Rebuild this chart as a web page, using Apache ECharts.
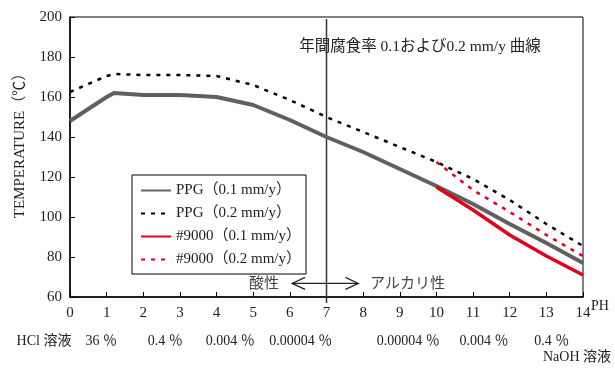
<!DOCTYPE html>
<html>
<head>
<meta charset="utf-8">
<script src="https://cdn.jsdelivr.net/npm/echarts@6/dist/echarts.min.js"></script>
<style>html,body{margin:0;padding:0;background:#fff;}#c{width:615px;height:368px;}</style>
</head>
<body>
<div id="c"></div>
<script>
// ---- data ----
const xTicks = [0,1,2,3,4,5,6,7,8,9,10,11,12,13,14];
const yTicks = [60,80,100,120,140,160,180,200];
const ppgX  = [0,1,1.2,2,3,4,5,6,7,8,9,10,11,12,13,14];
const ppg01 = [148,160,162,161,161,160,156,148.5,140,132.5,124,115.5,106.5,96.5,87,77];
const ppg02 = [162.5,170.5,171.5,171,171,170.5,166,158.5,150,142.5,135,127.5,119,108.5,96.5,85.5];
const n9X   = [10,11,12,13,14];
const n901  = [115,103.5,91,80.5,71];
const n902  = [127.5,113.5,102.5,91,80.5];
const seriesNames = ['PPG（0.1 mm/y）','PPG（0.2 mm/y）','#9000（0.1 mm/y）','#9000（0.2 mm/y）'];
const hclLabels = [[0.85,'36 ％'],[2.6,'0.4 ％'],[4.37,'0.004 ％'],[6.3,'0.00004 ％']];
const naohLabels = [[9.23,'0.00004 ％'],[11.3,'0.004 ％'],[13.15,'0.4 ％']];
const neutralPH = 7;

const FONT = '"Liberation Serif","Noto Sans CJK JP",serif';
const zip = (xs, ys) => xs.map((x,i)=>[x, ys[i]]);

const chart = echarts.init(document.getElementById('c'), null, {renderer:'canvas'});
chart.setOption({
  animation:false,
  textStyle:{fontFamily:FONT},
  grid:{left:70,right:32,top:17,bottom:71,show:true,borderColor:'#000',borderWidth:1,backgroundColor:'transparent'},
  xAxis:{type:'value',min:0,max:14,interval:1,
    axisLine:{lineStyle:{color:'#000',width:1.5}},
    axisTick:{inside:true,length:5,lineStyle:{color:'#000'}},
    splitLine:{show:false},
    axisLabel:{color:'#222',fontSize:15,fontFamily:FONT,margin:9}},
  yAxis:{type:'value',min:60,max:200,interval:20,
    axisLine:{show:true,lineStyle:{color:'#000',width:1.5}},
    axisTick:{show:true,inside:true,length:5,lineStyle:{color:'#000'}},
    splitLine:{show:false},
    axisLabel:{color:'#222',fontSize:15,fontFamily:FONT,margin:8}},
  legend:{data:seriesNames,orient:'vertical',left:132,top:175,
    padding:[8,5,7,8],itemWidth:30,itemHeight:14,itemGap:8,
    itemStyle:{opacity:0},
    borderColor:'#000',borderWidth:1,backgroundColor:'#fff',
    textStyle:{fontFamily:FONT,fontSize:15,color:'#222'}},
  series:[
    {name:'ref7',type:'line',data:[[neutralPH,199],[neutralPH,60]],symbol:'none',silent:true,
      lineStyle:{color:'#333',width:1.5},z:1},
    {name:seriesNames[0],type:'line',data:zip(ppgX,ppg01),symbol:'none',
      lineStyle:{color:'#606060',width:4},itemStyle:{color:'#606060'},z:2},
    {name:seriesNames[1],type:'line',data:zip(ppgX,ppg02),symbol:'none',
      lineStyle:{color:'#000',width:2.5,type:[4,6]},itemStyle:{color:'#000'},z:2},
    {name:seriesNames[2],type:'line',data:zip(n9X,n901),symbol:'none',
      lineStyle:{color:'#e2001a',width:3.5},itemStyle:{color:'#e2001a'},z:3},
    {name:seriesNames[3],type:'line',data:zip(n9X,n902),symbol:'none',
      lineStyle:{color:'#e2001a',width:2.5,type:[4,6]},itemStyle:{color:'#e2001a'},z:3}
  ]
});

const P = (x,y) => chart.convertToPixel({gridIndex:0},[x,y]);
const g = [];
const txt = (x,y,s,opt) => g.push(Object.assign({type:'text',x:x,y:y,
  style:Object.assign({text:s,font:'14px '+FONT,fill:'#222',textAlign:'center',textVerticalAlign:'middle'},opt||{})}));

// extension of pH 7 line below axis
const p7 = P(neutralPH,60);
g.push({type:'line',shape:{x1:p7[0],y1:p7[1],x2:p7[0],y2:p7[1]+6},style:{stroke:'#333',lineWidth:1.5}});

// arrow acid/alkali
const aL = P(6.06,66.8), aR = P(7.87,66.8);
g.push({type:'line',shape:{x1:aL[0],y1:aL[1],x2:aR[0],y2:aR[1]},style:{stroke:'#222',lineWidth:1.2}});
g.push({type:'polyline',shape:{points:[[aL[0]+13,aL[1]-6],[aL[0],aL[1]],[aL[0]+13,aL[1]+6]]},style:{stroke:'#222',lineWidth:1.2,fill:null}});
g.push({type:'polyline',shape:{points:[[aR[0]-13,aR[1]-6],[aR[0],aR[1]],[aR[0]-13,aR[1]+6]]},style:{stroke:'#222',lineWidth:1.2,fill:null}});
txt(aL[0]-28,aL[1]-1,'酸性',{font:'15px "Noto Sans CJK JP"',fill:'#444'});
txt(aR[0]+49,aR[1]-1,'アルカリ性',{font:'15px "Noto Sans CJK JP"',fill:'#444'});

// top annotation
txt(420,47,'年間腐食率 0.1および0.2 mm/y 曲線',{font:'15.5px '+FONT});

// concentrations
const rowY = 341;
txt(44,rowY,'HCl 溶液',{font:'14px '+FONT});
hclLabels.forEach(([x,s])=>txt(P(x,60)[0],rowY,s,{font:'14px '+FONT}));
naohLabels.forEach(([x,s])=>txt(P(x,60)[0],rowY,s,{font:'14px '+FONT}));
txt(577,357,'NaOH 溶液',{font:'14px '+FONT});
txt(600,306,'PH',{font:'14px '+FONT});

// y axis title
g.push({type:'text',x:20,y:142,rotation:Math.PI/2,
  style:{text:'TEMPERATURE（℃）',font:'15px '+FONT,fill:'#222',textAlign:'center',textVerticalAlign:'middle'}});

chart.setOption({graphic:g});
</script>
</body>
</html>
